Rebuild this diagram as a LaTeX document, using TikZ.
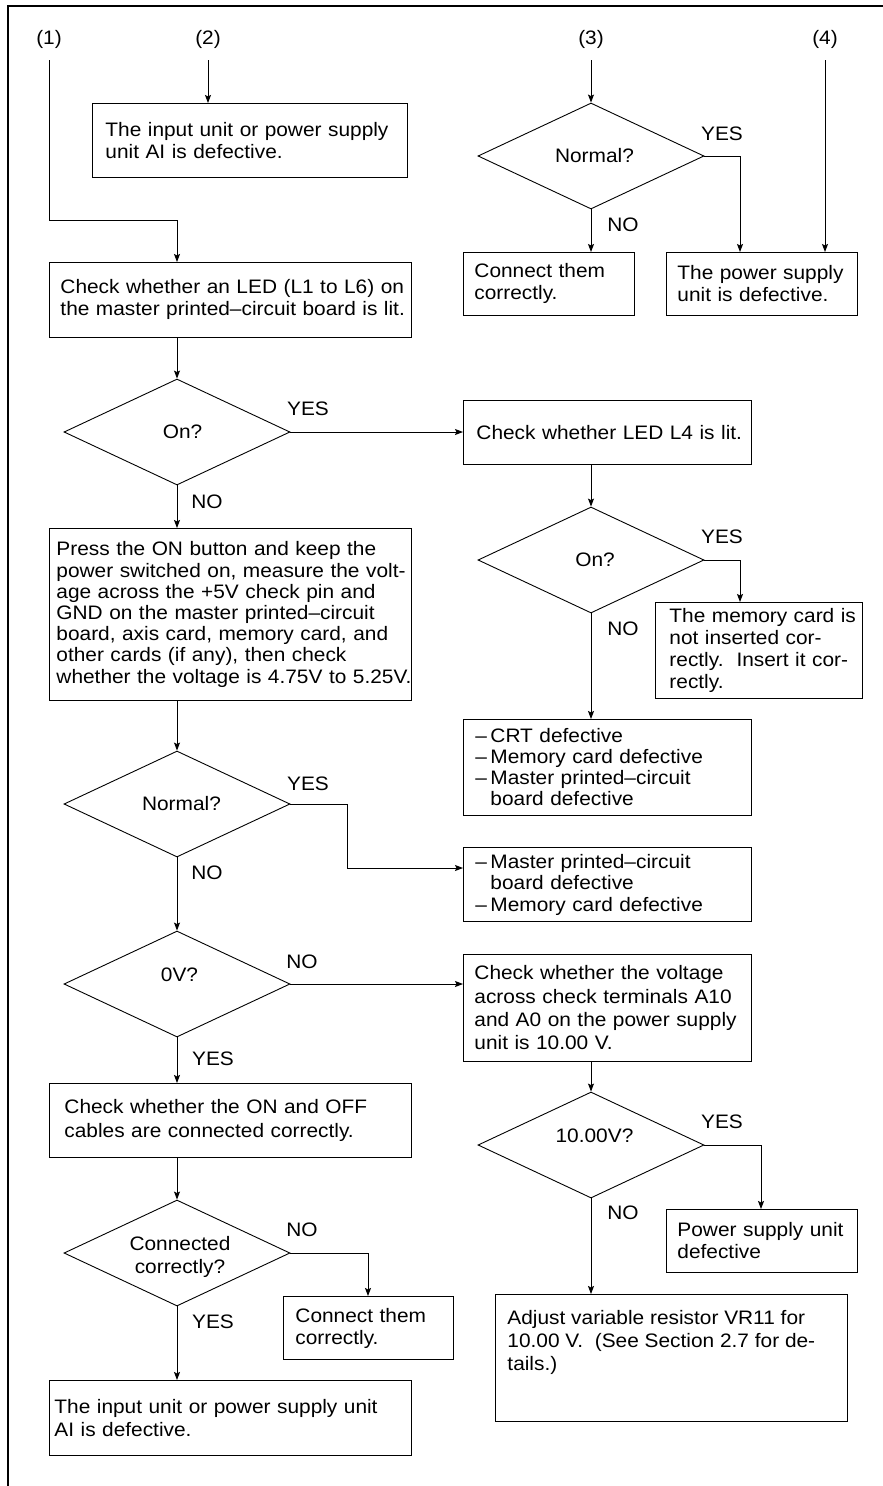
\documentclass[tikz,border=0pt]{standalone}
\usepackage{fontspec}
\setmainfont{Liberation Sans}[FakeStretch=1.07]
\usetikzlibrary{shapes.geometric,arrows.meta}
\newcommand{\fs}{\fontsize{19.5}{22}\selectfont}
\begin{document}
\begin{tikzpicture}[x=1pt,y=-1pt,
  every node/.style={font=\fs, text=black},
  box/.style={draw, line width=0.9pt, rectangle, anchor=north west, align=left, inner ysep=0pt},
  dia/.style={draw, line width=0.9pt, diamond, shape aspect=2.13, minimum width=226pt, minimum height=106pt, inner sep=0pt, align=center},
  lbl/.style={inner sep=0pt},
  arr/.style={line width=0.9pt, -{Stealth[length=8pt,width=6pt,inset=1.5pt]}},
  ln/.style={line width=0.9pt}]
\useasboundingbox (0,0) rectangle (883,1486);
% frame
\draw[line width=2pt] (8,1486) -- (8,5.5) -- (883,5.5);

% top labels
\node[lbl] (t1) at (49,39) {(1)};
\node[lbl] (t2) at (208,39) {(2)};
\node[lbl] (t3) at (591,39) {(3)};
\node[lbl] (t4) at (825,39) {(4)};
\coordinate (s1) at (49,60);
\coordinate (s2) at (208,60);
\coordinate (s3) at (591,60);
\coordinate (s4) at (825,60);

% boxes
\node[box, text width=289pt, inner xsep=13pt, minimum height=74pt] (B2) at (92,103)
  {\mbox{The input unit or power supply}\\\mbox{unit AI is defective.}};
\node[box, text width=340pt, inner xsep=11pt, minimum height=75pt] (B1) at (49,262)
  {\mbox{Check whether an LED (L1 to L6) on}\\\mbox{the master printed–circuit board is lit.}};
\node[box, text width=149pt, inner xsep=11pt, minimum height=63pt] (C1) at (463,252)
  {\mbox{Connect them}\\\mbox{correctly.}};
\node[box, text width=169pt, inner xsep=11pt, minimum height=63pt] (PS1) at (666,252)
  {\mbox{The power supply}\\\mbox{unit is defective.}};
\node[box, text width=262pt, inner xsep=13pt, minimum height=64pt] (L4) at (463,400)
  {\mbox{Check whether LED L4 is lit.}};
\node[box, text width=348pt, inner xsep=7pt, minimum height=172pt, font=\fontsize{19.5}{21.2}\selectfont] (B3) at (49,528)
  {\mbox{Press the ON button and keep the}\\
   \mbox{power switched on, measure the volt-}\\
   \mbox{age across the +5V check pin and}\\
   \mbox{GND on the master printed–circuit}\\
   \mbox{board, axis card, memory card, and}\\
   \mbox{other cards (if any), then check}\\
   \mbox{whether the voltage is 4.75V to 5.25V.}};
\node[box, text width=179pt, inner xsep=14pt, minimum height=96pt] (MC) at (655,602)
  {\mbox{The memory card is}\\\mbox{not inserted cor-}\\\mbox{rectly.\ \ Insert it cor-}\\\mbox{rectly.}};
\node[box, text width=264pt, inner xsep=12pt, minimum height=96pt, font=\fontsize{19.5}{21}\selectfont] (CRT) at (463,719)
  {\makebox[15pt][l]{–}CRT defective\\
   \makebox[15pt][l]{–}Memory card defective\\
   \makebox[15pt][l]{–}Master printed–circuit\\
   \hspace*{15pt}board defective};
\node[box, text width=264pt, inner xsep=12pt, minimum height=74pt, font=\fontsize{19.5}{21.5}\selectfont] (MM) at (463,847)
  {\makebox[15pt][l]{–}Master printed–circuit\\
   \hspace*{15pt}board defective\\
   \makebox[15pt][l]{–}Memory card defective};
\node[box, text width=266pt, inner xsep=11pt, minimum height=107pt, font=\fontsize{19.5}{23.3}\selectfont] (A10) at (463,954)
  {\mbox{Check whether the voltage}\\\mbox{across check terminals A10}\\\mbox{and A0 on the power supply}\\\mbox{unit is 10.00 V.}};
\node[box, text width=332pt, inner xsep=15pt, minimum height=74pt, font=\fontsize{19.5}{23.5}\selectfont] (OO) at (49,1083)
  {\mbox{Check whether the ON and OFF}\\\mbox{cables are connected correctly.}};
\node[box, text width=169pt, inner xsep=11pt, minimum height=63pt] (PS2) at (666,1209)
  {\mbox{Power supply unit}\\\mbox{defective}};
\node[box, text width=146pt, inner xsep=12pt, minimum height=63pt] (C2) at (283,1296)
  {\mbox{Connect them}\\\mbox{correctly.}};
\node[box, inner xsep=12pt, minimum height=127pt] (ADJ) at (495,1294)
  {\parbox[c][96pt][t]{328pt}{\fontsize{19.5}{23}\selectfont\raggedright
   \mbox{Adjust variable resistor VR11 for}\\\mbox{10.00 V.\ \ (See Section 2.7 for de-}\\\mbox{tails.)}}};
\node[box, text width=352pt, inner xsep=5pt, minimum height=75pt, font=\fontsize{19.5}{23}\selectfont] (FIN) at (49,1380)
  {\mbox{The input unit or power supply unit}\\\mbox{AI is defective.}};

% diamonds
\node[dia] (N3) at (591,156) {\hspace*{7pt}Normal?};
\node[dia] (On1) at (177,432) {\hspace*{11pt}On?};
\node[dia] (On2) at (591,560) {\hspace*{8pt}On?};
\node[dia] (N2) at (177,804) {\hspace*{9pt}Normal?};
\node[dia] (V0) at (177,984) {\smash{\raisebox{3pt}{\hspace*{5pt}0V?}}};
\node[dia] (V10) at (591,1145) {\smash{\raisebox{3pt}{\hspace*{7pt}10.00V?}}};
\node[dia] (CC) at (177,1253) {\smash{\raisebox{-9pt}{\parbox[c]{110pt}{\centering\fontsize{19.5}{23}\selectfont
   \hspace*{6pt}Connected\\\hspace*{6pt}correctly?}}}};

% labels
\node[lbl] (y1) at (722,134) {YES};
\node[lbl] (n1) at (623,225) {NO};
\node[lbl] (y2) at (308,409) {YES};
\node[lbl] (n2) at (207,502) {NO};
\node[lbl] (y3) at (722,537) {YES};
\node[lbl] (n3) at (623,629) {NO};
\node[lbl] (y4) at (308,784) {YES};
\node[lbl] (n4) at (207,873) {NO};
\node[lbl] (n5) at (302,962) {NO};
\node[lbl] (y5) at (213,1059) {YES};
\node[lbl] (y6) at (722,1122) {YES};
\node[lbl] (n6) at (623,1213) {NO};
\node[lbl] (n7) at (302,1230) {NO};
\node[lbl] (y7) at (213,1322) {YES};

% helper coordinates
\coordinate (c1) at (177,220);
\coordinate (k6) at (740,0);
\coordinate (k11) at (740,0);
\coordinate (k14) at (347,868);
\coordinate (k19) at (761,0);
\coordinate (k22) at (368,0);

% connectors
\draw[arr] (s1) |- (c1) -- (c1 |- B1.north);
\draw[arr] (s2) -- (s2 |- B2.north);
\draw[arr] (s3) -- (N3.north);
\draw[arr] (s4) -- (s4 |- PS1.north);
\draw[arr] (N3.south) -- (N3.south |- C1.north);
\draw[arr] (N3.east) -| (k6 |- PS1.north);
\draw[arr] (B1.south -| On1.north) -- (On1.north);
\draw[arr] (On1.east) -- (On1.east -| L4.west);
\draw[arr] (On1.south) -- (On1.south |- B3.north);
\draw[arr] (L4.south -| On2.north) -- (On2.north);
\draw[arr] (On2.east) -| (k11 |- MC.north);
\draw[arr] (On2.south) -- (On2.south |- CRT.north);
\draw[arr] (B3.south -| N2.north) -- (N2.north);
\draw[arr] (N2.east) -| (k14) -- (k14 -| MM.west);
\draw[arr] (N2.south) -- (V0.north);
\draw[arr] (V0.east) -- (V0.east -| A10.west);
\draw[arr] (V0.south) -- (V0.south |- OO.north);
\draw[arr] (A10.south -| V10.north) -- (V10.north);
\draw[arr] (V10.east) -| (k19 |- PS2.north);
\draw[arr] (V10.south) -- (V10.south |- ADJ.north);
\draw[arr] (OO.south -| CC.north) -- (CC.north);
\draw[arr] (CC.east) -| (k22 |- C2.north);
\draw[arr] (CC.south) -- (CC.south |- FIN.north);
\end{tikzpicture}
\end{document}
